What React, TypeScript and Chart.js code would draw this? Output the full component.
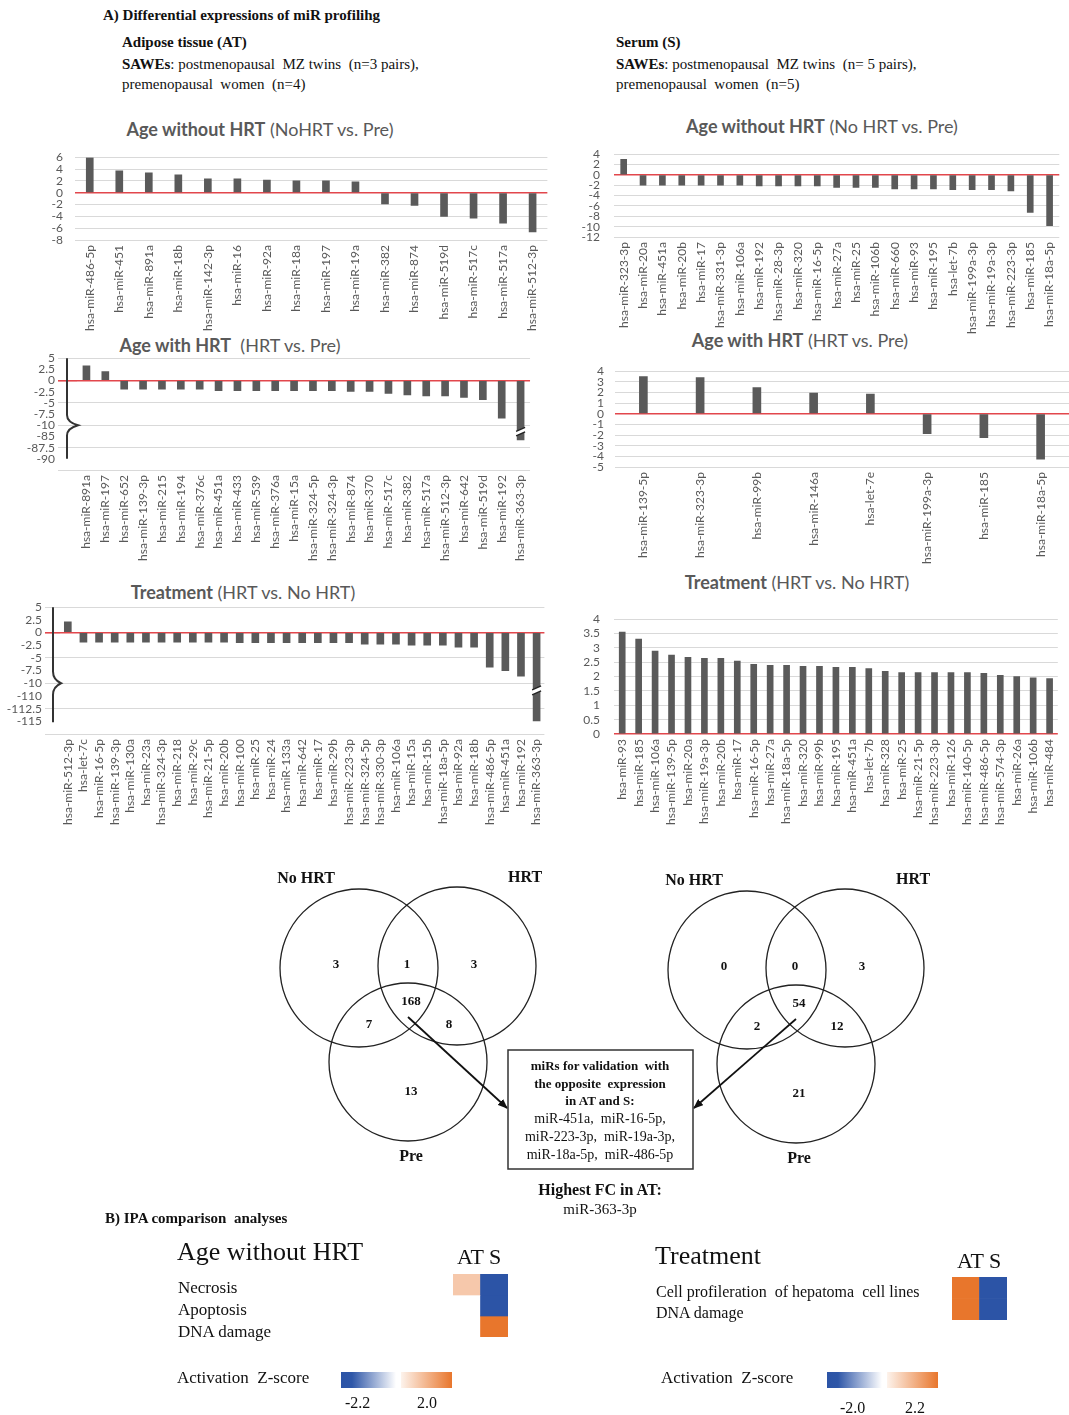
import React, { useEffect, useRef } from 'react';
import { Chart, registerables } from 'chart.js';
Chart.register(...registerables);

const SANS = 'Lato, "Open Sans", sans-serif';
const SERIF = '"Liberation Serif", "Times New Roman", serif';
const GRAY = '#595959';
const BAR = '#5a5a5a';
const GRID = '#d9d9d9';
const RED = '#e2474c';

// ---------- Adipose tissue: Age without HRT (NoHRT vs. Pre)
const atAgeNoHrtLabels = ['hsa-miR-486-5p', 'hsa-miR-451', 'hsa-miR-891a', 'hsa-miR-18b', 'hsa-miR-142-3p', 'hsa-miR-16', 'hsa-miR-92a', 'hsa-miR-18a', 'hsa-miR-197', 'hsa-miR-19a', 'hsa-miR-382', 'hsa-miR-874', 'hsa-miR-519d', 'hsa-miR-517c', 'hsa-miR-517a', 'hsa-miR-512-3p'];
const atAgeNoHrtFC = [5.9, 3.7, 3.35, 3.0, 2.35, 2.35, 2.15, 2.0, 2.0, 1.85, -1.9, -2.15, -4.0, -4.3, -5.15, -6.65];

// ---------- Serum: Age without HRT (No HRT vs. Pre)
const sAgeNoHrtLabels = ['hsa-miR-323-3p', 'hsa-miR-20a', 'hsa-miR-451a', 'hsa-miR-20b', 'hsa-miR-17', 'hsa-miR-331-3p', 'hsa-miR-106a', 'hsa-miR-192', 'hsa-miR-28-3p', 'hsa-miR-320', 'hsa-miR-16-5p', 'hsa-miR-27a', 'hsa-miR-25', 'hsa-miR-106b', 'hsa-miR-660', 'hsa-miR-93', 'hsa-miR-195', 'hsa-let-7b', 'hsa-miR-199a-3p', 'hsa-miR-19a-3p', 'hsa-miR-223-3p', 'hsa-miR-185', 'hsa-miR-18a-5p'];
const sAgeNoHrtFC = [3.0, -2.0, -2.0, -2.0, -2.0, -2.0, -2.0, -2.15, -2.15, -2.15, -2.15, -2.4, -2.4, -2.4, -2.7, -2.7, -2.7, -2.85, -2.85, -2.85, -3.1, -7.25, -9.8];

// ---------- Adipose tissue: Age with HRT (HRT vs. Pre)
const atAgeHrtLabels = ['hsa-miR-891a', 'hsa-miR-197', 'hsa-miR-652', 'hsa-miR-139-3p', 'hsa-miR-215', 'hsa-miR-194', 'hsa-miR-376c', 'hsa-miR-451a', 'hsa-miR-433', 'hsa-miR-539', 'hsa-miR-376a', 'hsa-miR-15a', 'hsa-miR-324-5p', 'hsa-miR-324-3p', 'hsa-miR-874', 'hsa-miR-370', 'hsa-miR-517c', 'hsa-miR-382', 'hsa-miR-517a', 'hsa-miR-512-3p', 'hsa-miR-642', 'hsa-miR-519d', 'hsa-miR-192', 'hsa-miR-363-3p'];
const atAgeHrtFC = [3.3, 2.0, -1.95, -1.95, -1.95, -1.95, -1.95, -2.25, -2.25, -2.25, -2.25, -2.25, -2.25, -2.25, -2.45, -2.45, -2.85, -3.2, -3.45, -3.45, -3.75, -4.3, -8.4, -85.8];

// ---------- Serum: Age with HRT (HRT vs. Pre)
const sAgeHrtLabels = ['hsa-miR-139-5p', 'hsa-miR-323-3p', 'hsa-miR-99b', 'hsa-miR-146a', 'hsa-let-7e', 'hsa-miR-199a-3p', 'hsa-miR-185', 'hsa-miR-18a-5p'];
const sAgeHrtFC = [3.5, 3.4, 2.45, 1.95, 1.85, -1.87, -2.25, -4.27];

// ---------- Adipose tissue: Treatment (HRT vs. No HRT)
const atTreatLabels = ['hsa-miR-512-3p', 'hsa-let-7c', 'hsa-miR-16-5p', 'hsa-miR-139-3p', 'hsa-miR-130a', 'hsa-miR-23a', 'hsa-miR-324-3p', 'hsa-miR-218', 'hsa-miR-29c', 'hsa-miR-21-5p', 'hsa-miR-20b', 'hsa-miR-100', 'hsa-miR-25', 'hsa-miR-24', 'hsa-miR-133a', 'hsa-miR-642', 'hsa-miR-17', 'hsa-miR-29b', 'hsa-miR-223-3p', 'hsa-miR-324-5p', 'hsa-miR-330-3p', 'hsa-miR-106a', 'hsa-miR-15a', 'hsa-miR-15b', 'hsa-miR-18a-5p', 'hsa-miR-92a', 'hsa-miR-18b', 'hsa-miR-486-5p', 'hsa-miR-451a', 'hsa-miR-192', 'hsa-miR-363-3p'];
const atTreatFC = [2.1, -1.9, -1.9, -1.9, -1.9, -1.9, -1.9, -1.9, -1.9, -1.9, -1.9, -2.0, -2.0, -2.0, -2.0, -2.0, -2.0, -2.0, -2.0, -2.3, -2.3, -2.3, -2.5, -2.5, -2.5, -2.9, -2.9, -6.8, -7.5, -8.6, -114.9];

// ---------- Serum: Treatment (HRT vs. No HRT)
const sTreatLabels = ['hsa-miR-93', 'hsa-miR-185', 'hsa-miR-106a', 'hsa-miR-139-5p', 'hsa-miR-20a', 'hsa-miR-19a-3p', 'hsa-miR-20b', 'hsa-miR-17', 'hsa-miR-16-5p', 'hsa-miR-27a', 'hsa-miR-18a-5p', 'hsa-miR-320', 'hsa-miR-99b', 'hsa-miR-195', 'hsa-miR-451a', 'hsa-let-7b', 'hsa-miR-328', 'hsa-miR-25', 'hsa-miR-21-5p', 'hsa-miR-223-3p', 'hsa-miR-126', 'hsa-miR-140-5p', 'hsa-miR-486-5p', 'hsa-miR-574-3p', 'hsa-miR-26a', 'hsa-miR-106b', 'hsa-miR-484'];
const sTreatFC = [3.55, 3.31, 2.89, 2.75, 2.67, 2.64, 2.64, 2.54, 2.43, 2.39, 2.39, 2.36, 2.36, 2.32, 2.32, 2.28, 2.18, 2.14, 2.14, 2.14, 2.14, 2.14, 2.11, 2.04, 2.0, 1.96, 1.93];

// ---------- Venn diagrams (regions: NoHRT only, NoHRT∩HRT, HRT only, all three, NoHRT∩Pre, HRT∩Pre, Pre only)
const vennSetNames = ['No HRT', 'HRT', 'Pre'];
const atVennCounts = [3, 1, 3, 168, 7, 8, 13];
const sVennCounts = [0, 0, 3, 54, 2, 12, 21];
const validationMiRs = ['miR-451a,  miR-16-5p,', 'miR-223-3p,  miR-19a-3p,', 'miR-18a-5p,  miR-486-5p'];

// ---------- IPA comparison (activation z-scores)
const ipaAgeRows = ['Necrosis', 'Apoptosis', 'DNA damage'];
const ipaAgeAT = [0.8, null, null];
const ipaAgeS = [-2.2, -2.2, 2.0];
const ipaAgeRange = [-2.2, 2.0];
const ipaTreatRows = ['Cell profileration  of hepatoma  cell lines', 'DNA damage'];
const ipaTreatAT = [2.2, 2.2];
const ipaTreatS = [-2.0, -2.0];
const ipaTreatRange = [-2.0, 2.2];
const heatColumns = ['AT', 'S'];

type Brk = { offset: number; tickLen: number; braceDx: number; braceBottom: number };
type Spec = {
  labels: string[]; values: number[];
  left: number; top: number; width: number; height: number;
  yWidth: number; xHeight: number; padTop: number;
  min: number; max: number; step: number; barThickness: number;
  tickPad: number; brk?: Brk;
};

function makeBarChart(canvas: HTMLCanvasElement, s: Spec) {
  const brk = s.brk;
  const plotted = s.values.map(v => (brk && v < -10 ? v + brk.offset : v));
  const breakPlugin = {
    id: 'breakPlugin',
    afterDatasetsDraw(chart: any) {
      if (!brk) return;
      const ctx = chart.ctx;
      const ys = chart.scales.y;
      const meta = chart.getDatasetMeta(0);
      s.values.forEach((v, i) => {
        if (v >= -10) return;
        const el: any = meta.data[i];
        const x0 = el.x - el.width / 2 - 1;
        const x1 = el.x + el.width / 2 + 1;
        const y1 = ys.getPixelForValue(-10.9);
        const y2 = ys.getPixelForValue(-11.9);
        ctx.save();
        ctx.fillStyle = '#ffffff';
        ctx.beginPath();
        ctx.moveTo(x0, y1 + 2); ctx.lineTo(x1, y1 - 2); ctx.lineTo(x1, y2 - 2); ctx.lineTo(x0, y2 + 2);
        ctx.closePath(); ctx.fill();
        ctx.strokeStyle = '#222'; ctx.lineWidth = 1.4;
        ctx.beginPath(); ctx.moveTo(x0, y1 + 2); ctx.lineTo(x1, y1 - 2); ctx.stroke();
        ctx.beginPath(); ctx.moveTo(x0, y2 + 2); ctx.lineTo(x1, y2 - 2); ctx.stroke();
        ctx.restore();
      });
    },
    afterDraw(chart: any) {
      if (!brk) return;
      const ctx = chart.ctx;
      const ys = chart.scales.y;
      const bx = chart.chartArea.left - brk.braceDx;
      const ax = chart.chartArea.left + 1;
      ctx.save();
      ctx.strokeStyle = '#333'; ctx.lineWidth = 2;
      ctx.beginPath();
      ctx.moveTo(bx, ys.getPixelForValue(s.max));
      ctx.lineTo(bx, ys.getPixelForValue(-7.7));
      ctx.quadraticCurveTo(bx, ys.getPixelForValue(-9.3), ax, ys.getPixelForValue(-10));
      ctx.quadraticCurveTo(bx, ys.getPixelForValue(-10.7), bx, ys.getPixelForValue(-12.3));
      ctx.lineTo(bx, ys.getPixelForValue(brk.braceBottom));
      ctx.stroke();
      ctx.restore();
    },
  };
  return new Chart(canvas, {
    type: 'bar',
    data: {
      labels: s.labels,
      datasets: [{ data: plotted, backgroundColor: BAR, barThickness: s.barThickness, borderWidth: 0 }],
    },
    options: {
      responsive: false,
      animation: false,
      layout: { padding: { top: s.padTop, left: 0, right: 0, bottom: 0 } },
      plugins: { legend: { display: false }, tooltip: { enabled: false }, title: { display: false } },
      scales: {
        x: {
          grid: { display: false, drawTicks: false },
          border: { display: false },
          ticks: { autoSkip: false, minRotation: 90, maxRotation: 90, padding: 5, color: GRAY, font: { family: SANS, size: 12 } },
          afterFit: (sc: any) => { sc.height = s.xHeight; },
        },
        y: {
          min: s.min, max: s.max,
          border: { display: false },
          grid: {
            drawTicks: !!brk,
            tickLength: brk ? brk.tickLen : 0,
            color: (c: any) => {
              const v = c.tick ? c.tick.value : 1;
              if (Math.abs(v) < 1e-9) return RED;
              if (brk && Math.abs(v % 5) > 1e-6) return 'rgba(0,0,0,0)';
              return GRID;
            },
            lineWidth: (c: any) => (c.tick && Math.abs(c.tick.value) < 1e-9 ? 1.6 : 1),
          },
          ticks: {
            autoSkip: false,
            stepSize: s.step, padding: s.tickPad, color: GRAY, font: { family: SANS, size: 12 },
            callback: (val: any) => {
              const n = Number(val);
              if (brk && n < -10) {
                if (n <= s.min + 1e-9) return '';
                return String(n - brk.offset);
              }
              return String(n);
            },
          },
          afterFit: (sc: any) => { sc.width = s.yWidth; },
        },
      },
    },
    plugins: [breakPlugin],
  } as any);
}

function BarChart({ spec }: { spec: Spec }) {
  const ref = useRef<HTMLCanvasElement>(null);
  useEffect(() => {
    const ch = makeBarChart(ref.current!, spec);
    return () => ch.destroy();
  }, []);
  return (
    <canvas ref={ref} width={spec.width} height={spec.height}
      style={{ position: 'absolute', left: spec.left, top: spec.top, width: spec.width, height: spec.height }} />
  );
}

function zColor(z: number | null, range: number[]) {
  if (z === null || z === undefined) return 'rgba(0,0,0,0)';
  const blue = [44, 84, 166];
  const orange = [232, 118, 44];
  const t = z < 0 ? Math.min(-z / -range[0], 1) : Math.min(z / range[1], 1);
  const c = z < 0 ? blue : orange;
  const m = c.map(k => Math.round(255 + (k - 255) * t));
  return `rgb(${m[0]},${m[1]},${m[2]})`;
}

function HeatMap({ left, top, width, height, at, s, range }: { left: number; top: number; width: number; height: number; at: (number | null)[]; s: (number | null)[]; range: number[] }) {
  const ref = useRef<HTMLCanvasElement>(null);
  useEffect(() => {
    const rows = at.length;
    const datasets = at.map((_, r) => ({
      data: [at[r] === null ? null : [r, r + 1], s[r] === null ? null : [r, r + 1]],
      backgroundColor: [zColor(at[r], range), zColor(s[r], range)],
      borderWidth: 0, barPercentage: 1, categoryPercentage: 1, grouped: false,
    }));
    const ch = new Chart(ref.current!, {
      type: 'bar',
      data: { labels: heatColumns, datasets },
      options: {
        responsive: false, animation: false,
        layout: { padding: 0 },
        plugins: { legend: { display: false }, tooltip: { enabled: false } },
        scales: {
          x: { display: false },
          y: { display: false, min: 0, max: rows, reverse: true },
        },
      },
    } as any);
    return () => ch.destroy();
  }, []);
  return <canvas ref={ref} width={width} height={height} style={{ position: 'absolute', left, top, width, height }} />;
}

function T(p: { x: number; y: number; size: number; bold?: boolean; center?: boolean; family?: string; color?: string; ws?: number; children: any }) {
  return (
    <div style={{
      position: 'absolute', left: p.x, top: p.y - p.size * 0.55, fontSize: p.size, lineHeight: `${p.size * 1.1}px`,
      fontFamily: p.family ?? SERIF, fontWeight: p.bold ? 700 : 400, color: p.color ?? '#111', whiteSpace: 'pre',
      transform: p.center ? 'translateX(-50%)' : undefined, wordSpacing: p.ws,
    }}>{p.children}</div>
  );
}

function ChartTitle({ x, y, bold, rest }: { x: number; y: number; bold: string; rest: string }) {
  return (
    <T x={x} y={y} size={18} center family={SANS} color={GRAY}><b>{bold}</b>{rest}</T>
  );
}

const vennOffsets: [number, number][] = [[-23, -5], [48, -5], [115, -5], [52, 32], [10, 55], [90, 55], [52, 122]];

function Venn({ ox, oy, counts, arrowTo }: { ox: number; oy: number; counts: number[]; arrowTo: [number, number] }) {
  const r = 79;
  const centers: [number, number][] = [[ox, oy], [ox + 98, oy - 2], [ox + 49, oy + 94]];
  return (
    <g>
      {centers.map((c, i) => <circle key={i} cx={c[0]} cy={c[1]} r={r} fill="none" stroke="#222" strokeWidth={1.3} />)}
      {counts.map((n, i) => (
        <text key={i} x={ox + vennOffsets[i][0]} y={oy + vennOffsets[i][1] + 5} textAnchor="middle" fontFamily={SERIF} fontWeight={700} fontSize={13} fill="#111">{n}</text>
      ))}
      <text x={ox - 53} y={oy - 85} textAnchor="middle" fontFamily={SERIF} fontWeight={700} fontSize={16} fill="#111">{vennSetNames[0]}</text>
      <text x={ox + 166} y={oy - 86} textAnchor="middle" fontFamily={SERIF} fontWeight={700} fontSize={16} fill="#111">{vennSetNames[1]}</text>
      <text x={ox + 52} y={oy + 193} textAnchor="middle" fontFamily={SERIF} fontWeight={700} fontSize={16} fill="#111">{vennSetNames[2]}</text>
      <line x1={ox + 49} y1={oy + 49} x2={arrowTo[0]} y2={arrowTo[1]} stroke="#111" strokeWidth={1.8} markerEnd="url(#arrowHead)" />
    </g>
  );
}

const specs: Spec[] = [
  { labels: atAgeNoHrtLabels, values: atAgeNoHrtFC, left: 0, top: 138, width: 552, height: 202, yWidth: 75, xHeight: 100, padTop: 10, min: -8, max: 6, step: 2, barThickness: 7, tickPad: 12 },
  { labels: sAgeNoHrtLabels, values: sAgeNoHrtFC, left: 580, top: 133, width: 489, height: 202, yWidth: 34, xHeight: 98, padTop: 10, min: -12, max: 4, step: 2, barThickness: 6, tickPad: 14 },
  { labels: atAgeHrtLabels, values: atAgeHrtFC, left: 0, top: 348, width: 540, height: 222, yWidth: 77, xHeight: 100, padTop: 10, min: -20, max: 5, step: 2.5, barThickness: 7, tickPad: 3, brk: { offset: 72.5, tickLen: 19, braceDx: 10, braceBottom: -17.5 } },
  { labels: sAgeHrtLabels, values: sAgeHrtFC, left: 580, top: 353, width: 489, height: 217, yWidth: 35, xHeight: 103, padTop: 10, min: -5, max: 4, step: 1, barThickness: 8, tickPad: 11 },
  { labels: atTreatLabels, values: atTreatFC, left: 0, top: 597, width: 556, height: 233, yWidth: 60, xHeight: 96, padTop: 10, min: -20, max: 5, step: 2.5, barThickness: 7, tickPad: 3, brk: { offset: 97.5, tickLen: 15, braceDx: 7, braceBottom: -17.7 } },
  { labels: sTreatLabels, values: sTreatFC, left: 580, top: 598, width: 489, height: 232, yWidth: 34, xHeight: 96, padTop: 10, min: 0, max: 4, step: 0.5, barThickness: 6, tickPad: 14 },
];

export default function App() {
  return (
    <div style={{ position: 'absolute', left: 0, top: 0, width: 1069, height: 1415, background: '#fff', overflow: 'hidden' }}>
      <T x={103} y={15} size={15} bold>A) Differential expressions of miR profilihg</T>
      <T x={122} y={42} size={15} bold>Adipose tissue (AT)</T>
      <T x={122} y={64} size={15}><b>SAWEs</b>: postmenopausal  MZ twins  (n=3 pairs),</T>
      <T x={122} y={84} size={15}>premenopausal  women  (n=4)</T>
      <T x={616} y={42} size={15} bold>Serum (S)</T>
      <T x={616} y={64} size={15}><b>SAWEs</b>: postmenopausal  MZ twins  (n= 5 pairs),</T>
      <T x={616} y={84} size={15}>premenopausal  women  (n=5)</T>

      <ChartTitle x={260} y={130} bold="Age without HRT" rest=" (NoHRT vs. Pre)" />
      <ChartTitle x={822} y={127} bold="Age without HRT" rest=" (No HRT vs. Pre)" />
      <ChartTitle x={230} y={346} bold="Age with HRT" rest="  (HRT vs. Pre)" />
      <ChartTitle x={800} y={341} bold="Age with HRT" rest=" (HRT vs. Pre)" />
      <ChartTitle x={243} y={593} bold="Treatment" rest=" (HRT vs. No HRT)" />
      <ChartTitle x={797} y={583} bold="Treatment" rest=" (HRT vs. No HRT)" />

      {specs.map((s, i) => <BarChart key={i} spec={s} />)}

      <svg width={1069} height={1415} style={{ position: 'absolute', left: 0, top: 0 }}>
        <defs>
          <marker id="arrowHead" markerWidth="10" markerHeight="8" refX="9" refY="4" orient="auto" markerUnits="userSpaceOnUse">
            <path d="M0,0 L10,4 L0,8 z" fill="#111" />
          </marker>
        </defs>
        <Venn ox={359} oy={968} counts={atVennCounts} arrowTo={[507, 1108]} />
        <Venn ox={747} oy={970} counts={sVennCounts} arrowTo={[694, 1108]} />
        <rect x={508} y={1050} width={185} height={119} fill="#fff" stroke="#333" strokeWidth={1.5} />
      </svg>
      <T x={600} y={1066} size={13} bold center>miRs for validation  with</T>
      <T x={600} y={1084} size={13} bold center>the opposite  expression</T>
      <T x={600} y={1101} size={13} bold center>in AT and S:</T>
      {validationMiRs.map((m, i) => <T key={i} x={600} y={1119 + i * 18} size={14} center>{m}</T>)}
      <T x={600} y={1190} size={16} bold center>Highest FC in AT:</T>
      <T x={600} y={1209} size={15} center>miR-363-3p</T>

      <T x={105} y={1218} size={15} bold>B) IPA comparison  analyses</T>
      <T x={177} y={1252} size={26}>Age without HRT</T>
      <T x={457} y={1257} size={22}>AT S</T>
      {ipaAgeRows.map((r, i) => <T key={r} x={178} y={1288 + i * 22} size={17}>{r}</T>)}
      <HeatMap left={453} top={1274} width={55} height={63} at={ipaAgeAT} s={ipaAgeS} range={ipaAgeRange} />
      <T x={177} y={1378} size={17}>Activation  Z-score</T>
      <div style={{ position: 'absolute', left: 341, top: 1372, width: 55, height: 16, background: 'linear-gradient(to right, #2c54a6, #2f57a8 20%, #ffffff)' }} />
      <div style={{ position: 'absolute', left: 401, top: 1372, width: 51, height: 16, background: 'linear-gradient(to right, #fdf3ec, #e8762c)' }} />
      <T x={345} y={1403} size={16}>{String(ipaAgeRange[0])}</T>
      <T x={417} y={1403} size={16}>{ipaAgeRange[1].toFixed(1)}</T>

      <T x={655} y={1256} size={26}>Treatment</T>
      <T x={957} y={1261} size={22}>AT S</T>
      {ipaTreatRows.map((r, i) => <T key={i} x={656} y={1292 + i * 21} size={16}>{r}</T>)}
      <HeatMap left={952} top={1277} width={55} height={43} at={ipaTreatAT} s={ipaTreatS} range={ipaTreatRange} />
      <T x={661} y={1378} size={17}>Activation  Z-score</T>
      <div style={{ position: 'absolute', left: 827, top: 1372, width: 55, height: 16, background: 'linear-gradient(to right, #2c54a6, #2f57a8 20%, #ffffff)' }} />
      <div style={{ position: 'absolute', left: 887, top: 1372, width: 51, height: 16, background: 'linear-gradient(to right, #fdf3ec, #e8762c)' }} />
      <T x={840} y={1408} size={16}>{ipaTreatRange[0].toFixed(1)}</T>
      <T x={905} y={1408} size={16}>{String(ipaTreatRange[1])}</T>
    </div>
  );
}
